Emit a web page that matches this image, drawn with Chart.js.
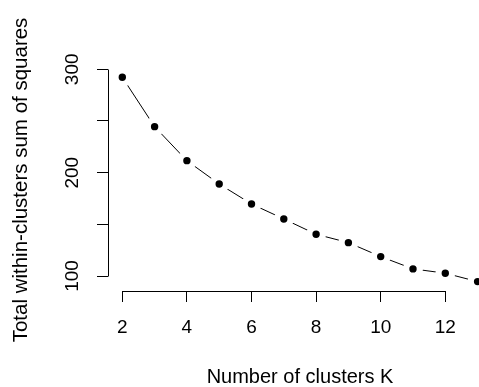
<!DOCTYPE html>
<html>
<head>
<meta charset="utf-8">
<script src="https://cdn.jsdelivr.net/npm/chart.js@4"></script>
<style>
  html, body { margin: 0; padding: 0; overflow: hidden; background: #fff; }
  canvas { display: block; }
</style>
</head>
<body>
<canvas id="elbowChart" width="492" height="387" style="width:492px;height:387px"></canvas>
<script>
// number of clusters and the total within-cluster sum of squares
const kValues = [2, 3, 4, 5, 6, 7, 8, 9, 10, 11, 12, 13];
const wssValues = [292.3, 244.5, 211.6, 189.0, 169.7, 155.2, 140.4, 132.3, 118.8, 106.9, 102.7, 94.6];

// axis ticks (R style: 150 and 250 get a tick mark but no label)
const xTicks = [2, 4, 6, 8, 10, 12];
const yTicks = [100, 150, 200, 250, 300];
const yTickLabels = ['100', '', '200', '', '300'];

const FONT = "'Liberation Sans', Arial, sans-serif";

// R draws its axis lines only from first to last tick, and y labels turned
const rAxes = {
    id: 'rAxes',
    afterDraw(chart) {
        const ctx = chart.ctx;
        const x = chart.scales.x, y = chart.scales.y;
        const area = chart.chartArea;
        ctx.save();
        ctx.strokeStyle = '#000';
        ctx.lineWidth = 1;
        ctx.beginPath();
        ctx.moveTo(Math.round(x.getPixelForValue(xTicks[0])) + 0.5, Math.round(area.bottom) + 0.5);
        ctx.lineTo(Math.round(x.getPixelForValue(xTicks[xTicks.length - 1])) + 0.5, Math.round(area.bottom) + 0.5);
        ctx.moveTo(Math.round(area.left) + 0.5, Math.round(y.getPixelForValue(yTicks[0])) + 0.5);
        ctx.lineTo(Math.round(area.left) + 0.5, Math.round(y.getPixelForValue(yTicks[yTicks.length - 1])) + 0.5);
        ctx.stroke();

        ctx.fillStyle = '#000';
        ctx.font = '19px ' + FONT;
        ctx.textAlign = 'center';
        ctx.textBaseline = 'middle';
        yTicks.forEach((v, i) => {
            if (!yTickLabels[i]) return;
            ctx.save();
            ctx.translate(73, y.getPixelForValue(v));
            ctx.rotate(-Math.PI / 2);
            ctx.fillText(yTickLabels[i], 0, 0);
            ctx.restore();
        });
        ctx.restore();
    }
};

new Chart(document.getElementById('elbowChart'), {
    type: 'line',
    data: {
        datasets: [{
            data: kValues.map((k, i) => ({ x: k, y: wssValues[i] })),
            borderColor: '#000',
            borderWidth: 1,
            // white ring around each dot leaves the gap R's type="b" draws
            pointRadius: 6.85,
            pointBorderWidth: 6.3,
            pointBorderColor: '#fff',
            pointBackgroundColor: '#000',
            tension: 0,
            clip: false
        }]
    },
    options: {
        responsive: false,
        animation: false,
        events: [],
        layout: { autoPadding: false, padding: { top: 69, left: 0, right: 0, bottom: 0 } },
        plugins: { legend: { display: false }, tooltip: { enabled: false } },
        scales: {
            x: {
                type: 'linear',
                min: 1.557,
                max: 13.446,
                afterBuildTicks: s => { s.ticks = xTicks.map(v => ({ value: v })); },
                afterFit: s => { s.height = 96; },
                border: { display: false },
                grid: { drawOnChartArea: false, drawTicks: true, tickLength: 11, tickColor: '#000' },
                ticks: {
                    color: '#000',
                    font: { family: FONT, size: 19 },
                    padding: 14,
                    maxRotation: 0,
                    autoSkip: false
                },
                title: {
                    display: true,
                    text: 'Number of clusters K',
                    color: '#000',
                    font: { family: FONT, size: 20, lineHeight: 1 },
                    padding: { top: 0, bottom: 0 }
                }
            },
            y: {
                type: 'linear',
                min: 85.5,
                max: 300.3,
                afterBuildTicks: s => { s.ticks = yTicks.map(v => ({ value: v })); },
                afterFit: s => { s.width = 108; },
                border: { display: false },
                grid: { drawOnChartArea: false, drawTicks: true, tickLength: 11, tickColor: '#000' },
                ticks: { display: false },
                title: {
                    display: true,
                    text: 'Total within-clusters sum of squares',
                    color: '#000',
                    font: { family: FONT, size: 20.5, lineHeight: 1 },
                    padding: { top: 11, bottom: 0 }
                }
            }
        }
    },
    plugins: [rAxes]
});
</script>
</body>
</html>
